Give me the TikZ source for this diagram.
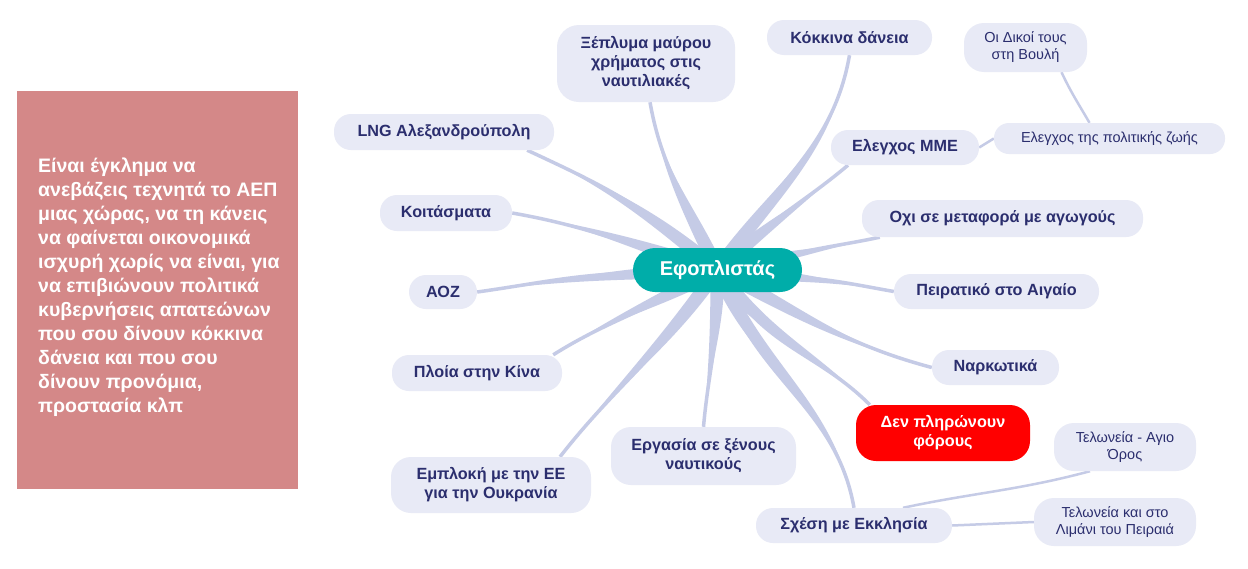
\documentclass[tikz,border=0pt]{standalone}
\usepackage{fontspec}
\setmainfont{Liberation Sans}
\usetikzlibrary{calc,positioning,backgrounds}

\definecolor{topicfill}{HTML}{E8EAF6}
\definecolor{topictext}{HTML}{2B2E6E}
\definecolor{branchcol}{HTML}{C5CBE6}
\definecolor{centerteal}{HTML}{00ADA9}
\definecolor{notebox}{HTML}{D48888}

\tikzset{
  topic/.style={fill=topicfill, text=topictext, rounded corners=17pt, align=center, inner sep=0pt, font=\bfseries\fontsize{16.2}{19}\selectfont},
  subtopic/.style={topic, font=\fontsize{14.5}{17}\selectfont},
  hottopic/.style={topic, fill=red, text=white},
  thinbranch/.style={draw=branchcol, line width=2.5pt},
}

% tapered branch: start, out, in, end
\newcommand{\taper}[4]{%
  \fill[branchcol] ($(#1)+(#2+90:7)$) to[out=#2,in=#3] (#4) to[out=#3,in=#2] ($(#1)+(#2-90:7)$) -- cycle;
  \draw[branchcol, line width=3.5pt] (#1) to[out=#2,in=#3] (#4);
}

\begin{document}
\begin{tikzpicture}[x=1pt,y=1pt]
  \useasboundingbox (0,0) rectangle (1248,-568);

  % Note box
  \node[fill=notebox, minimum width=281pt, minimum height=398pt, inner sep=0pt] (note) at (157.5,-290) {};
  \node[anchor=west, text=white, align=left, inner sep=0pt, font=\bfseries\fontsize{19.5}{24}\selectfont] (notetext) at (38,-287)
    {Είναι έγκλημα να\\ανεβάζεις τεχνητά το ΑΕΠ\\μιας χώρας, να τη κάνεις\\να φαίνεται οικονομικά\\ισχυρή χωρίς να είναι, για\\να επιβιώνουν πολιτικά\\κυβερνήσεις απατεώνων\\που σου δίνουν κόκκινα\\δάνεια και που σου\\δίνουν προνόμια,\\προστασία κλπ};

  % Center
  \node[fill=centerteal, text=white, rounded corners=22pt, minimum width=169pt, minimum height=44pt, inner sep=0pt, font=\bfseries\fontsize{20}{24}\selectfont] (ctr) at (717.5,-270) {Εφοπλιστάς};

  % Topics
  \node[topic, rounded corners=22pt, minimum width=178pt, minimum height=77pt] (xeplyma) at (646,-63.5) {Ξέπλυμα μαύρου\\χρήματος στις\\ναυτιλιακές};
  \node[topic, minimum width=165pt, minimum height=35pt] (kokkina) at (849.5,-37.5) {Κόκκινα δάνεια};
  \node[subtopic, rounded corners=20pt, minimum width=123pt, minimum height=49pt] (dikoi) at (1025.5,-47.5) {Οι Δικοί τους\\στη Βουλή};
  \node[subtopic, rounded corners=15pt, minimum width=231pt, minimum height=31pt] (politiki) at (1109.5,-138.5) {Ελεγχος της πολιτικής ζωής};
  \node[topic, minimum width=148pt, minimum height=35pt] (mme) at (905,-147.5) {Ελεγχος ΜΜΕ};
  \node[topic, minimum width=220pt, minimum height=36pt] (lng) at (444,-132) {LNG Αλεξανδρούπολη};
  \node[topic, minimum width=281pt, minimum height=37pt] (agogoi) at (1002.5,-218.5) {Οχι σε μεταφορά με αγωγούς};
  \node[topic, minimum width=132pt, minimum height=36pt] (koitasmata) at (446,-213) {Κοιτάσματα};
  \node[topic, minimum width=68pt, minimum height=34pt] (aoz) at (443,-292) {ΑΟΖ};
  \node[topic, minimum width=205pt, minimum height=35pt] (peiratiko) at (996.5,-291.5) {Πειρατικό στο Αιγαίο};
  \node[topic, minimum width=170pt, minimum height=36pt] (kina) at (477,-373) {Πλοία στην Κίνα};
  \node[topic, minimum width=127pt, minimum height=35pt] (narkotika) at (995.5,-367.5) {Ναρκωτικά};
  \node[hottopic, rounded corners=20pt, minimum width=174pt, minimum height=56pt] (foroi) at (943,-433) {Δεν πληρώνουν\\φόρους};
  \node[topic, rounded corners=20pt, minimum width=185pt, minimum height=58pt] (ergasia) at (703.5,-456) {Εργασία σε ξένους\\ναυτικούς};
  \node[topic, rounded corners=20pt, minimum width=200pt, minimum height=56pt] (emploki) at (491,-485) {Εμπλοκή με την ΕΕ\\για την Ουκρανία};
  \node[topic, minimum width=196pt, minimum height=35pt] (ekklisia) at (854,-525.5) {Σχέση με Εκκλησία};
  \node[subtopic, rounded corners=20pt, minimum width=142pt, minimum height=48pt] (agioros) at (1125,-447) {Τελωνεία - Αγιο\\Όρος};
  \node[subtopic, rounded corners=20pt, minimum width=162pt, minimum height=48pt] (limani) at (1115,-522) {Τελωνεία και στο\\Λιμάνι του Πειραιά};

  % Branch ends
  \coordinate (xeplyma-in) at ([xshift=4pt]xeplyma.south);
  \coordinate (kokkina-in) at (kokkina.south);
  \coordinate (mme-in) at ([xshift=-57pt]mme.south);
  \coordinate (agogoi-in) at ([xshift=18pt]agogoi.south west);
  \coordinate (peiratiko-in) at (peiratiko.west);
  \coordinate (narkotika-in) at (narkotika.west);
  \coordinate (foroi-in) at ([xshift=14pt]foroi.north west);
  \coordinate (ekklisia-in) at (ekklisia.north);
  \coordinate (ergasia-in) at (ergasia.north);
  \coordinate (emploki-in) at ([xshift=69pt]emploki.north);
  \coordinate (kina-in) at ([xshift=-9pt]kina.north east);
  \coordinate (aoz-in) at (aoz.east);
  \coordinate (koitasmata-in) at (koitasmata.east);
  \coordinate (lng-in) at ([xshift=-27pt]lng.south east);
  \coordinate (dikoi-out) at ([xshift=36pt]dikoi.south);
  \coordinate (politiki-in) at ([xshift=-20pt]politiki.north);
  \coordinate (ekklisia-out) at ([xshift=49pt]ekklisia.north);
  \coordinate (agioros-in) at ([xshift=-35pt]agioros.south);

  \begin{scope}[on background layer]
    \fill[white] (0,0) rectangle (1248,-568);
    % Main branches
    \foreach \dst/\ao/\ai in {xeplyma-in/115/-80, kokkina-in/55/-100, mme-in/42/-140, agogoi-in/12/192,
        peiratiko-in/-5/170, narkotika-in/-28/165, foroi-in/-55/135, ekklisia-in/-68/100,
        ergasia-in/-90/85, emploki-in/-125/52, kina-in/-152/32, aoz-in/182/8,
        koitasmata-in/163/-10, lng-in/140/-25}
      \taper{ctr}{\ao}{\ai}{\dst};
    % Sub branches
    \draw[thinbranch] (mme.east) -- (politiki.west);
    \draw[thinbranch] (dikoi-out) to[out=-65,in=120] (politiki-in);
    \draw[thinbranch] (ekklisia-out) to[out=12,in=195] (agioros-in);
    \draw[thinbranch] (ekklisia.east) -- (limani.west);
  \end{scope}
\end{tikzpicture}
\end{document}
